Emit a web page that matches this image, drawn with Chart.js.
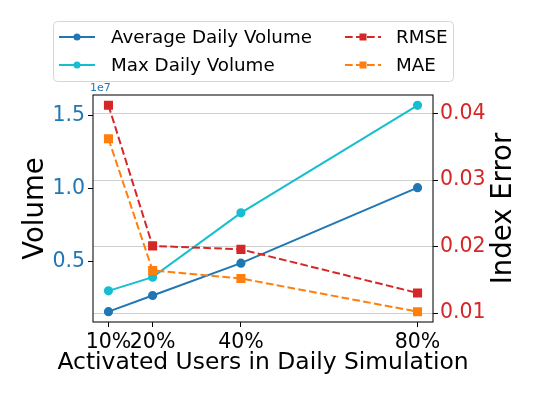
<!DOCTYPE html>
<html>
<head>
<meta charset="utf-8">
<script src="https://cdn.jsdelivr.net/npm/chart.js@4/dist/chart.umd.min.js"></script>
<style>
  html,body{margin:0;padding:0;background:#fff;}
  #wrap{width:544px;height:397px;position:relative;}
</style>
</head>
<body>
<div id="wrap"><canvas id="c" width="544" height="397"></canvas></div>
<script>
// data
const activatedPct = [10, 20, 40, 80];
const avgVolume = [0.157e7, 0.268e7, 0.490e7, 1.008e7];
const maxVolume = [0.300e7, 0.394e7, 0.835e7, 1.573e7];
const rmse = [0.04125, 0.0201, 0.01958, 0.01302];
const mae = [0.03622, 0.0164, 0.0152, 0.0102];
const xTicks = [10, 20, 40, 80];
const volumeTicks = [0.5e7, 1.0e7, 1.5e7];
const errorTicks = [0.01, 0.02, 0.03, 0.04];

const BLUE = '#1f77b4', CYAN = '#17becf', RED = '#d62728', ORANGE = '#ff7f0e';
const FONT = "'DejaVu Sans', sans-serif";
const DASH = [7.7, 3.3];

function pts(ys){ return activatedPct.map((x,i)=>({x:x, y:ys[i]})); }

// matplotlib-like legend box, two columns
const legendPlugin = {
  id:'mplLegend',
  afterDraw(chart){
    const ctx = chart.ctx;
    ctx.save();
    ctx.beginPath();
    ctx.roundRect(53.5, 21.5, 400, 60, 4);
    ctx.fillStyle = 'rgba(255,255,255,0.8)';
    ctx.fill();
    ctx.strokeStyle = '#d6d6d6';
    ctx.lineWidth = 1;
    ctx.stroke();
    const cols = [{hx:59, tx:111}, {hx:345, tx:396}];
    const rows = [37, 65];
    const place = [[0,0],[0,1],[1,0],[1,1]];
    chart.data.datasets.forEach((ds,i)=>{
      const c = cols[place[i][0]], y = rows[place[i][1]];
      ctx.strokeStyle = ds.borderColor;
      ctx.lineWidth = 2;
      ctx.setLineDash(ds.borderDash || []);
      ctx.beginPath(); ctx.moveTo(c.hx, y); ctx.lineTo(c.hx+36, y); ctx.stroke();
      ctx.setLineDash([]);
      ctx.fillStyle = ds.borderColor;
      if(ds.pointStyle === 'rect'){
        ctx.fillRect(c.hx+18-3.5, y-3.5, 7, 7);
      } else {
        ctx.beginPath(); ctx.arc(c.hx+18, y, 3.5, 0, Math.PI*2); ctx.fill();
      }
      ctx.fillStyle = '#000';
      ctx.font = '18.3px ' + FONT;
      ctx.textBaseline = 'middle';
      ctx.textAlign = 'left';
      ctx.fillText(ds.label, c.tx, y+1);
    });
    ctx.restore();
  }
};

// frame, x title (wider than the plot), right axis title (reads bottom-to-top) and offset text
const framePlugin = {
  id:'frame',
  afterDraw(chart){
    const a = chart.chartArea, ctx = chart.ctx;
    ctx.save();
    ctx.strokeStyle = '#111';
    ctx.lineWidth = 1.1;
    ctx.strokeRect(a.left, a.top, a.right-a.left, a.bottom-a.top);
    ctx.fillStyle = BLUE;
    ctx.font = '11px ' + FONT;
    ctx.textAlign = 'left';
    ctx.textBaseline = 'alphabetic';
    ctx.fillText('1e7', a.left-3, a.top-4);
    ctx.fillStyle = '#000';
    ctx.font = '23.4px ' + FONT;
    ctx.textAlign = 'center';
    ctx.fillText('Activated Users in Daily Simulation', (a.left+a.right)/2, 369);
    ctx.translate(511, (a.top+a.bottom)/2);
    ctx.rotate(-Math.PI/2);
    ctx.font = '27.5px ' + FONT;
    ctx.fillText('Index Error', 0, 0);
    ctx.restore();
  }
};

new Chart(document.getElementById('c'), {
  type:'line',
  data:{
    datasets:[
      {label:'Average Daily Volume', data:pts(avgVolume), yAxisID:'y', borderColor:BLUE, backgroundColor:BLUE,
       pointStyle:'circle', pointRadius:3.6, borderWidth:2, order:4},
      {label:'Max Daily Volume', data:pts(maxVolume), yAxisID:'y', borderColor:CYAN, backgroundColor:CYAN,
       pointStyle:'circle', pointRadius:3.6, borderWidth:2, order:3},
      {label:'RMSE', data:pts(rmse), yAxisID:'y1', borderColor:RED, backgroundColor:RED, borderDash:DASH,
       pointStyle:'rect', pointRadius:5, borderWidth:2, order:2},
      {label:'MAE', data:pts(mae), yAxisID:'y1', borderColor:ORANGE, backgroundColor:ORANGE, borderDash:DASH,
       pointStyle:'rect', pointRadius:5, borderWidth:2, order:1}
    ]
  },
  options:{
    responsive:false,
    animation:false,
    layout:{padding:{top:95, left:0, right:0, bottom:0}},
    elements:{point:{borderWidth:0, hoverRadius:4}, line:{tension:0}},
    plugins:{legend:{display:false}, tooltip:{enabled:false}},
    scales:{
      x:{
        type:'linear', min:6.5, max:83.5,
        afterBuildTicks:(s)=>{ s.ticks = xTicks.map(v=>({value:v})); },
        afterFit:(s)=>{ s.height = 75; },
        ticks:{callback:(v)=>v+'%', color:'#000', font:{family:FONT, size:20.5}, padding:3, maxRotation:0, autoSkip:false},
        grid:{drawOnChartArea:false, tickColor:'#000', tickLength:5},
        border:{display:false}
      },
      y:{
        type:'linear', position:'left', min:0.0862e7, max:1.6438e7,
        afterBuildTicks:(s)=>{ s.ticks = volumeTicks.map(v=>({value:v})); },
        afterFit:(s)=>{ s.width = 93; },
        ticks:{callback:(v)=>(v/1e7).toFixed(1), color:BLUE, font:{family:FONT, size:20.5}, padding:3},
        grid:{drawOnChartArea:false, tickColor:'#000', tickLength:5},
        border:{display:false},
        title:{display:true, text:'Volume', color:'#000', font:{family:FONT, size:27.5}, padding:{top:19, bottom:0}}
      },
      y1:{
        type:'linear', position:'right', min:0.00865, max:0.0428,
        afterBuildTicks:(s)=>{ s.ticks = errorTicks.map(v=>({value:v})); },
        afterFit:(s)=>{ s.width = 111; },
        ticks:{callback:(v)=>v.toFixed(2), color:RED, font:{family:FONT, size:20.5}, padding:2},
        grid:{color:'#cfcfcf', lineWidth:1, tickColor:'#000', tickLength:5},
        border:{display:false}
      }
    }
  },
  plugins:[legendPlugin, framePlugin]
});
</script>
</body>
</html>
